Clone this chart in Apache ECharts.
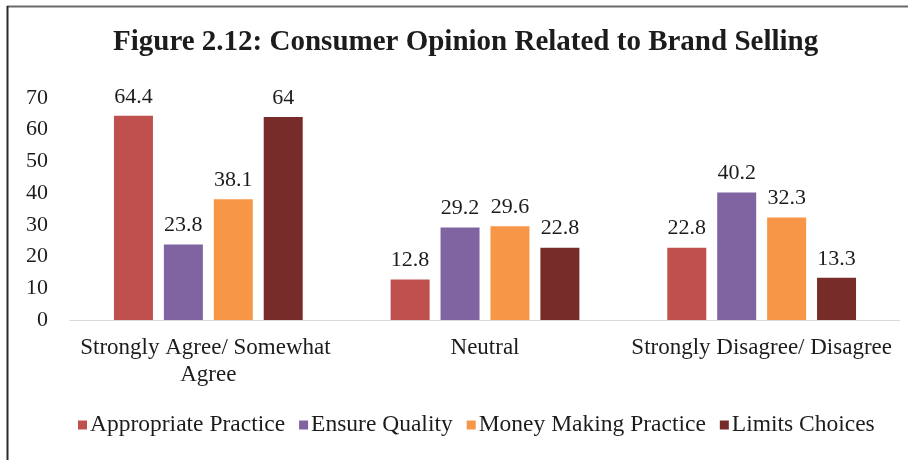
<!DOCTYPE html>
<html>
<head>
<meta charset="utf-8">
<style>
  html, body { margin: 0; padding: 0; background: #ffffff; }
  #chart { width: 908px; height: 460px; }
</style>
<script src="https://cdn.jsdelivr.net/npm/echarts@6/dist/echarts.min.js"></script>
</head>
<body>
<div id="chart"></div>
<script>
// Survey responses (%) by opinion group
const categories = ['Strongly Agree/ Somewhat Agree', 'Neutral', 'Strongly Disagree/ Disagree'];
const seriesNames = ['Appropriate Practice', 'Ensure Quality', 'Money Making Practice', 'Limits Choices'];
const appropriatePractice = [64.4, 12.8, 22.8];
const ensureQuality = [23.8, 29.2, 40.2];
const moneyMakingPractice = [38.1, 29.6, 32.3];
const limitsChoices = [64, 22.8, 13.3];
const yTicks = { min: 0, max: 70, interval: 10 };

const serif = "'Liberation Serif', 'Times New Roman', 'DejaVu Serif', serif";
const textColor = '#1c1c1c';
const palette = ['#C0504D', '#8064A2', '#F79646', '#772C2A'];
const values = [appropriatePractice, ensureQuality, moneyMakingPractice, limitsChoices];

const chart = echarts.init(document.getElementById('chart'), null, { renderer: 'canvas' });

chart.setOption({
  animation: false,
  backgroundColor: '#ffffff',
  color: palette,
  title: {
    text: 'Figure 2.12: Consumer Opinion Related to Brand Selling',
    left: 113,
    top: 28,
    padding: 0,
    textStyle: { fontFamily: serif, fontSize: 29, fontWeight: 'bold', color: textColor }
  },
  legend: {
    data: seriesNames,
    left: 78,
    top: 413,
    padding: 0,
    icon: 'rect',
    itemWidth: 9,
    itemHeight: 9,
    itemGap: 14,
    textStyle: { fontFamily: serif, fontSize: 23.5, color: textColor, padding: [0, 0, 0, -2] }
  },
  grid: { left: 70, right: 8, top: 98, bottom: 140, containLabel: false },
  xAxis: {
    type: 'category',
    data: categories,
    axisLine: { show: true, lineStyle: { color: '#D9D9D9', width: 1 } },
    axisTick: { show: false },
    axisLabel: {
      interval: 0,
      margin: 14,
      fontFamily: serif,
      fontSize: 23,
      lineHeight: 27,
      color: textColor,
      width: 272,
      overflow: 'break'
    }
  },
  yAxis: {
    type: 'value',
    min: yTicks.min,
    max: yTicks.max,
    interval: yTicks.interval,
    axisLine: { show: false },
    axisTick: { show: false },
    splitLine: { show: false },
    axisLabel: { margin: 22, fontFamily: serif, fontSize: 22, color: textColor }
  },
  series: seriesNames.map((name, i) => ({
    name: name,
    type: 'bar',
    data: values[i],
    barWidth: 39,
    barGap: '28%',
    itemStyle: { color: palette[i] },
    label: {
      show: true,
      position: 'top',
      distance: 8,
      fontFamily: serif,
      fontSize: 22,
      color: textColor
    }
  })),
  graphic: [
    {
      type: 'line',
      silent: true,
      shape: { x1: 7, y1: 6.5, x2: 908, y2: 6.5 },
      style: { stroke: '#6a6a6a', lineWidth: 2 }
    },
    {
      type: 'line',
      silent: true,
      shape: { x1: 7.5, y1: 6, x2: 7.5, y2: 460 },
      style: { stroke: '#2a2a2a', lineWidth: 2 }
    }
  ]
});
</script>
</body>
</html>
